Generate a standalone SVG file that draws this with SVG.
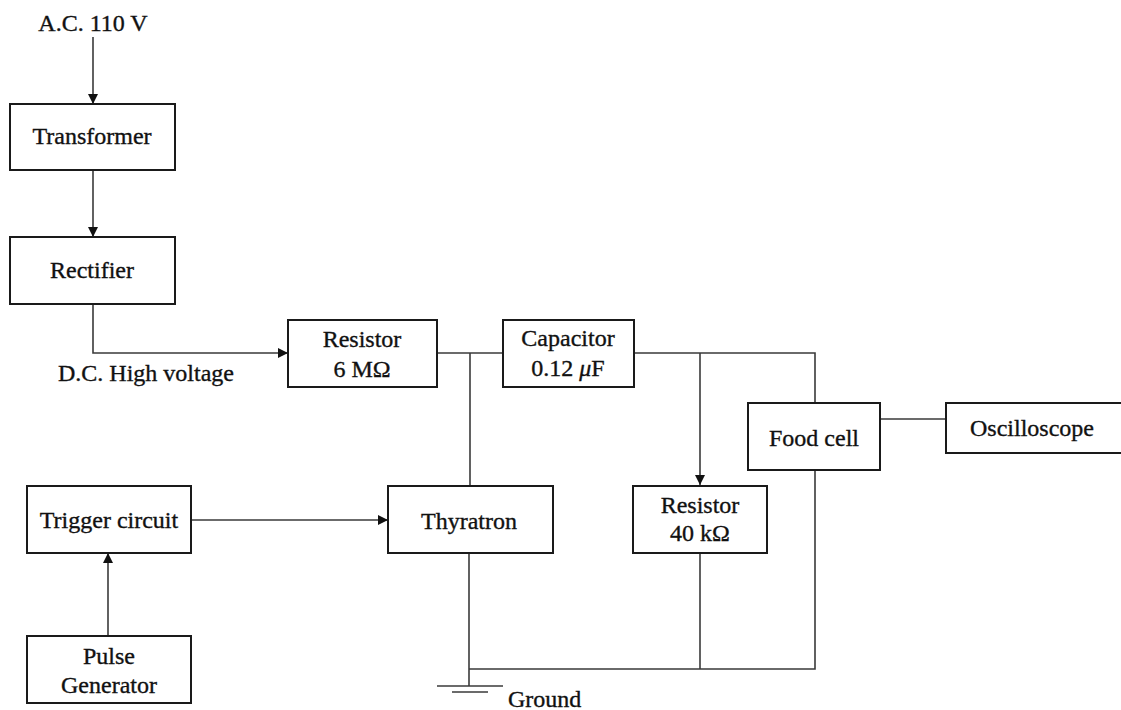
<svg xmlns="http://www.w3.org/2000/svg" width="1121" height="710" viewBox="0 0 1121 710">
<style>
.box{fill:#fff;stroke:#1a1a1a;stroke-width:2}
.ln{fill:none;stroke:#3a3a3a;stroke-width:1.6}
text{font-family:"Liberation Serif","Times New Roman",serif;font-size:24px;fill:#111;stroke:#111;stroke-width:0.35}
.c{text-anchor:middle}
</style>
<defs>
<marker id="ah" viewBox="0 0 10 10" refX="10" refY="5" markerWidth="10" markerHeight="10" markerUnits="userSpaceOnUse" orient="auto">
<path d="M0,0 L10,5 L0,10 z" fill="#111"/>
</marker>
</defs>
<rect width="1121" height="710" fill="#fff"/>
<g id="connectors">
<path class="ln" d="M93,37 V104" marker-end="url(#ah)"/>
<path class="ln" d="M93,170 V237" marker-end="url(#ah)"/>
<path class="ln" d="M93,304 V353 H288" marker-end="url(#ah)"/>
<path class="ln" d="M437,353 H503"/>
<path class="ln" d="M470,353 V486"/>
<path class="ln" d="M634,353 H815 V403"/>
<path class="ln" d="M700,353 V485" marker-end="url(#ah)"/>
<path class="ln" d="M880,419 H946"/>
<path class="ln" d="M191,520 H388" marker-end="url(#ah)"/>
<path class="ln" d="M108,636 V553" marker-end="url(#ah)"/>
<path class="ln" d="M469,553 V686"/>
<path class="ln" d="M469,669 H815 V470"/>
<path class="ln" d="M700,553 V669"/>
<path class="ln" d="M437,686 H503"/>
<path class="ln" d="M452,692 H488"/>
</g>
<g id="ac"><text class="c" x="93" y="31">A.C. 110 V</text></g>
<g id="transformer"><rect class="box" x="10" y="104" width="165" height="66"/><text class="c" x="92" y="144">Transformer</text></g>
<g id="rectifier"><rect class="box" x="10" y="237" width="165" height="67"/><text class="c" x="92" y="278">Rectifier</text></g>
<g id="dclabel"><text x="58" y="381">D.C. High voltage</text></g>
<g id="resistor6"><rect class="box" x="288" y="320" width="149" height="67"/><text class="c" x="362" y="347">Resistor</text><text class="c" x="362" y="377">6 MΩ</text></g>
<g id="capacitor"><rect class="box" x="503" y="320" width="131" height="67"/><text class="c" x="568" y="346">Capacitor</text><text class="c" x="568" y="376">0.12 <tspan font-style="italic">μ</tspan>F</text></g>
<g id="foodcell"><rect class="box" x="748" y="403" width="132" height="67"/><text class="c" x="814" y="446">Food cell</text></g>
<g id="oscilloscope"><rect class="box" x="946" y="403" width="180" height="50"/><text x="970" y="436">Oscilloscope</text></g>
<g id="trigger"><rect class="box" x="27" y="486" width="164" height="67"/><text class="c" x="109" y="528">Trigger circuit</text></g>
<g id="thyratron"><rect class="box" x="388" y="486" width="165" height="67"/><text class="c" x="469" y="529">Thyratron</text></g>
<g id="resistor40"><rect class="box" x="633" y="486" width="134" height="67"/><text class="c" x="700" y="513">Resistor</text><text class="c" x="700" y="541">40 kΩ</text></g>
<g id="pulse"><rect class="box" x="27" y="636" width="164" height="67"/><text class="c" x="109" y="664">Pulse</text><text class="c" x="109" y="693">Generator</text></g>
<g id="ground"><text x="508" y="707">Ground</text></g>
</svg>
